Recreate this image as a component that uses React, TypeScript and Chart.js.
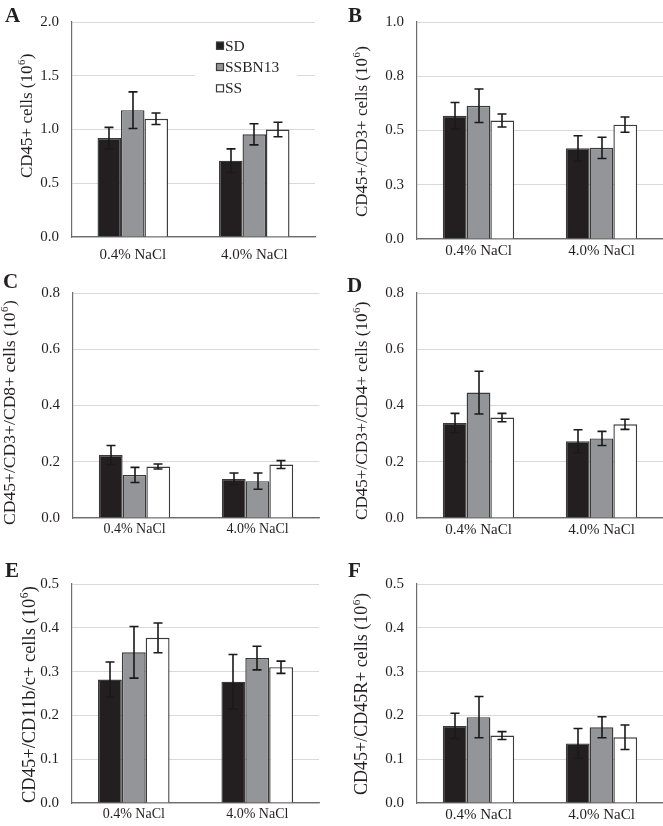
import React, { useEffect, useRef } from "react";
import { Chart, registerables } from "chart.js";
Chart.register(...registerables);

// ---------- data ----------
const categories = ["0.4% NaCl", "4.0% NaCl"];
const seriesNames = ["SD", "SSBN13", "SS"];
const seriesColors = ["#231f20", "#939598", "#ffffff"];

// Panel A
const titleA = "CD45+ cells (10⁶)";
const sdA = [0.92, 0.71];
const sdErrA = [0.1, 0.11];
const bnA = [1.18, 0.955];
const bnErrA = [0.17, 0.098];
const ssA = [1.1, 1.0];
const ssErrA = [0.053, 0.068];
const ticksA = ["0.0", "0.5", "1.0", "1.5", "2.0"];

// Panel B
const titleB = "CD45+/CD3+ cells (10⁶)";
const sdB = [0.568, 0.418];
const sdErrB = [0.061, 0.058];
const bnB = [0.614, 0.42];
const bnErrB = [0.077, 0.049];
const ssB = [0.546, 0.527];
const ssErrB = [0.03, 0.035];
const ticksB = ["0.0", "0.3", "0.5", "0.8", "1.0"];

// Panel C
const titleC = "CD45+/CD3+/CD8+ cells (10⁶)";
const sdC = [0.224, 0.139];
const sdErrC = [0.034, 0.021];
const bnC = [0.153, 0.131];
const bnErrC = [0.027, 0.029];
const ssC = [0.183, 0.19];
const ssErrC = [0.009, 0.014];
const ticksC = ["0.0", "0.2", "0.4", "0.6", "0.8"];

// Panel D
const titleD = "CD45+/CD3+/CD4+ cells (10⁶)";
const sdD = [0.338, 0.273];
const sdErrD = [0.034, 0.041];
const bnD = [0.446, 0.283];
const bnErrD = [0.076, 0.025];
const ssD = [0.357, 0.333];
const ssErrD = [0.015, 0.018];
const ticksD = ["0.0", "0.2", "0.4", "0.6", "0.8"];

// Panel E
const titleE = "CD45+/CD11b/c+ cells (10⁶)";
const sdE = [0.282, 0.277];
const sdErrE = [0.04, 0.062];
const bnE = [0.344, 0.331];
const bnErrE = [0.059, 0.027];
const ssE = [0.377, 0.31];
const ssErrE = [0.034, 0.014];
const ticksE = ["0.0", "0.1", "0.2", "0.3", "0.4", "0.5"];

// Panel F
const titleF = "CD45+/CD45R+ cells (10⁶)";
const sdF = [0.176, 0.136];
const sdErrF = [0.029, 0.034];
const bnF = [0.196, 0.173];
const bnErrF = [0.047, 0.024];
const ssF = [0.154, 0.15];
const ssErrF = [0.009, 0.028];
const ticksF = ["0.0", "0.1", "0.2", "0.3", "0.4", "0.5"];

// ---------- styles / layout ----------
const FONT = "'Liberation Serif', 'Times New Roman', serif";
const TEXT = "#231f20";
const GRID = "#d9d9d9";
const AXIS = "#6d6d6d";
const BAR_BORDER = "#3a3a3a";

type PanelDef = {
  letter: string;
  title: string;
  values: number[][];
  errors: number[][];
  tickLabels: string[];
  max: number;
  step: number;
  // layout
  x: number; y: number; w: number; h: number;
  left: number; right: number; top: number; bottom: number;
  titleX: number; titleY: number; titleSize: number;
  xTickPad: number; xTickSize: number;
  letterX: number; letterY: number;
  legend?: boolean;
};

const panels: PanelDef[] = [
  { letter: "A", title: titleA, values: [sdA, bnA, ssA], errors: [sdErrA, bnErrA, ssErrA], tickLabels: ticksA, max: 2, step: 0.5,
    x: 0, y: 0, w: 330, h: 270, left: 72, right: 315, top: 16, bottom: 237, titleX: 32, titleY: 178, titleSize: 17,
    xTickPad: 9, xTickSize: 15, letterX: 5, letterY: 22, legend: true },
  { letter: "B", title: titleB, values: [sdB, bnB, ssB], errors: [sdErrB, bnErrB, ssErrB], tickLabels: ticksB, max: 1, step: 0.25,
    x: 330, y: 0, w: 333, h: 270, left: 87, right: 333, top: 21, bottom: 239, titleX: 37, titleY: 217, titleSize: 17,
    xTickPad: 3, xTickSize: 15, letterX: 18, letterY: 22 },
  { letter: "C", title: titleC, values: [sdC, bnC, ssC], errors: [sdErrC, bnErrC, ssErrC], tickLabels: ticksC, max: 0.8, step: 0.2,
    x: 0, y: 270, w: 330, h: 270, left: 73, right: 319, top: 23, bottom: 253, titleX: 15, titleY: 255, titleSize: 17.6,
    xTickPad: 3, xTickSize: 14, letterX: 3, letterY: 18 },
  { letter: "D", title: titleD, values: [sdD, bnD, ssD], errors: [sdErrD, bnErrD, ssErrD], tickLabels: ticksD, max: 0.8, step: 0.2,
    x: 330, y: 270, w: 333, h: 270, left: 87, right: 333, top: 23, bottom: 253, titleX: 37, titleY: 250, titleSize: 17.1,
    xTickPad: 3, xTickSize: 15, letterX: 17, letterY: 22 },
  { letter: "E", title: titleE, values: [sdE, bnE, ssE], errors: [sdErrE, bnErrE, ssErrE], tickLabels: ticksE, max: 0.5, step: 0.1,
    x: 0, y: 540, w: 330, h: 286, left: 72, right: 319, top: 44, bottom: 263, titleX: 35, titleY: 263, titleSize: 18.5,
    xTickPad: 3, xTickSize: 14, letterX: 5, letterY: 37 },
  { letter: "F", title: titleF, values: [sdF, bnF, ssF], errors: [sdErrF, bnErrF, ssErrF], tickLabels: ticksF, max: 0.5, step: 0.1,
    x: 330, y: 540, w: 333, h: 286, left: 87, right: 333, top: 44, bottom: 263, titleX: 37, titleY: 255, titleSize: 18,
    xTickPad: 3, xTickSize: 15, letterX: 18, letterY: 37 },
];

// ---------- plugins ----------
const errorBarPlugin = {
  id: "errorBars",
  afterDatasetsDraw(chart: any) {
    const ctx = chart.ctx;
    const ys = chart.scales.y;
    ctx.save();
    ctx.strokeStyle = "#1a1a1a";
    ctx.lineWidth = 1.6;
    chart.data.datasets.forEach((ds: any, i: number) => {
      const meta = chart.getDatasetMeta(i);
      meta.data.forEach((bar: any, j: number) => {
        const v = ds.data[j];
        const e = ds.errors[j];
        const x = Math.round(bar.x);
        const yt = ys.getPixelForValue(v + e);
        const yb = ys.getPixelForValue(v - e);
        ctx.beginPath();
        ctx.moveTo(x, yt);
        ctx.lineTo(x, yb);
        ctx.moveTo(x - 4.5, yt);
        ctx.lineTo(x + 4.5, yt);
        ctx.moveTo(x - 4.5, yb);
        ctx.lineTo(x + 4.5, yb);
        ctx.stroke();
      });
    });
    ctx.restore();
  },
};

const decorPlugin = {
  id: "decor",
  afterDraw(chart: any, _args: any, opts: any) {
    const ctx = chart.ctx;
    ctx.save();
    // panel letter
    ctx.fillStyle = TEXT;
    ctx.font = `bold 21px ${FONT}`;
    ctx.textBaseline = "alphabetic";
    ctx.textAlign = "left";
    ctx.fillText(opts.letter, opts.letterX, opts.letterY);

    // y-axis title with superscript
    const size = opts.titleSize;
    const parts = String(opts.title).split("⁶");
    ctx.save();
    ctx.translate(opts.titleX, opts.titleY);
    ctx.rotate(-Math.PI / 2);
    ctx.fillStyle = TEXT;
    ctx.textBaseline = "alphabetic";
    ctx.textAlign = "left";
    let cx = 0;
    ctx.font = `${size}px ${FONT}`;
    ctx.fillText(parts[0], cx, 0);
    cx += ctx.measureText(parts[0]).width;
    if (parts.length > 1) {
      ctx.font = `${size * 0.62}px ${FONT}`;
      ctx.fillText("6", cx + 0.5, -size * 0.4);
      cx += ctx.measureText("6").width + 1;
      ctx.font = `${size}px ${FONT}`;
      ctx.fillText(parts[1], cx, 0);
    }
    ctx.restore();

    if (opts.legend) {
      ctx.fillStyle = "#ffffff";
      ctx.fillRect(195, 35, 102, 64);
      ctx.font = `15.5px ${FONT}`;
      ctx.textBaseline = "middle";
      chart.data.datasets.forEach((ds: any, i: number) => {
        const cy = 45.7 + i * 21.3;
        ctx.fillStyle = ds.backgroundColor;
        ctx.fillRect(216, cy - 4, 8, 8);
        ctx.strokeStyle = BAR_BORDER;
        ctx.lineWidth = 1.2;
        ctx.strokeRect(216.5, cy - 3.5, 7, 7);
        ctx.fillStyle = TEXT;
        ctx.fillText(ds.label, 225, cy + 1);
      });
    }
    ctx.restore();
  },
};

function Panel({ p }: { p: PanelDef }) {
  const ref = useRef<HTMLCanvasElement>(null);
  useEffect(() => {
    if (!ref.current) return;
    const chart = new Chart(ref.current, {
      type: "bar",
      data: {
        labels: categories,
        datasets: seriesNames.map((name, i) => ({
          label: name,
          data: p.values[i],
          errors: p.errors[i],
          backgroundColor: seriesColors[i],
          borderColor: BAR_BORDER,
          borderWidth: 1.4,
          barPercentage: 1,
          categoryPercentage: 0.58,
        })) as any,
      },
      options: {
        animation: false,
        responsive: false,
        maintainAspectRatio: false,
        events: [],
        layout: { padding: { left: 0, top: p.top, right: p.w - p.right, bottom: 0 } },
        plugins: {
          legend: { display: false },
          tooltip: { enabled: false },
          decor: {
            letter: p.letter, letterX: p.letterX, letterY: p.letterY, legend: !!p.legend,
            title: p.title, titleX: p.titleX, titleY: p.titleY, titleSize: p.titleSize,
          },
        } as any,
        scales: {
          x: {
            type: "category",
            grid: { display: false, drawTicks: false },
            border: { display: true, color: AXIS, width: 1.2 },
            ticks: {
              padding: p.xTickPad,
              color: TEXT,
              font: { family: FONT, size: p.xTickSize },
              maxRotation: 0,
              autoSkip: false,
            },
            afterFit: (s: any) => {
              s.height = p.h - p.bottom;
            },
          },
          y: {
            min: 0,
            max: p.max,
            grid: { color: GRID, lineWidth: 1, drawTicks: false },
            border: { display: true, color: AXIS, width: 1.2 },
            ticks: {
              stepSize: p.step,
              padding: 13,
              color: TEXT,
              font: { family: FONT, size: 15 },
              callback: (_v: any, i: number) => p.tickLabels[i],
            },
            afterFit: (s: any) => {
              s.width = p.left;
            },
          },
        } as any,
      },
      plugins: [errorBarPlugin, decorPlugin],
    });
    return () => chart.destroy();
  }, [p]);
  return (
    <div style={{ position: "absolute", left: p.x, top: p.y, width: p.w, height: p.h }}>
      <canvas ref={ref} width={p.w} height={p.h} style={{ width: p.w, height: p.h, display: "block" }} />
    </div>
  );
}

export default function App() {
  return (
    <div style={{ position: "absolute", left: 0, top: 0, width: 663, height: 826, background: "#ffffff" }}>
      {panels.map((p) => (
        <Panel key={p.letter} p={p} />
      ))}
    </div>
  );
}
